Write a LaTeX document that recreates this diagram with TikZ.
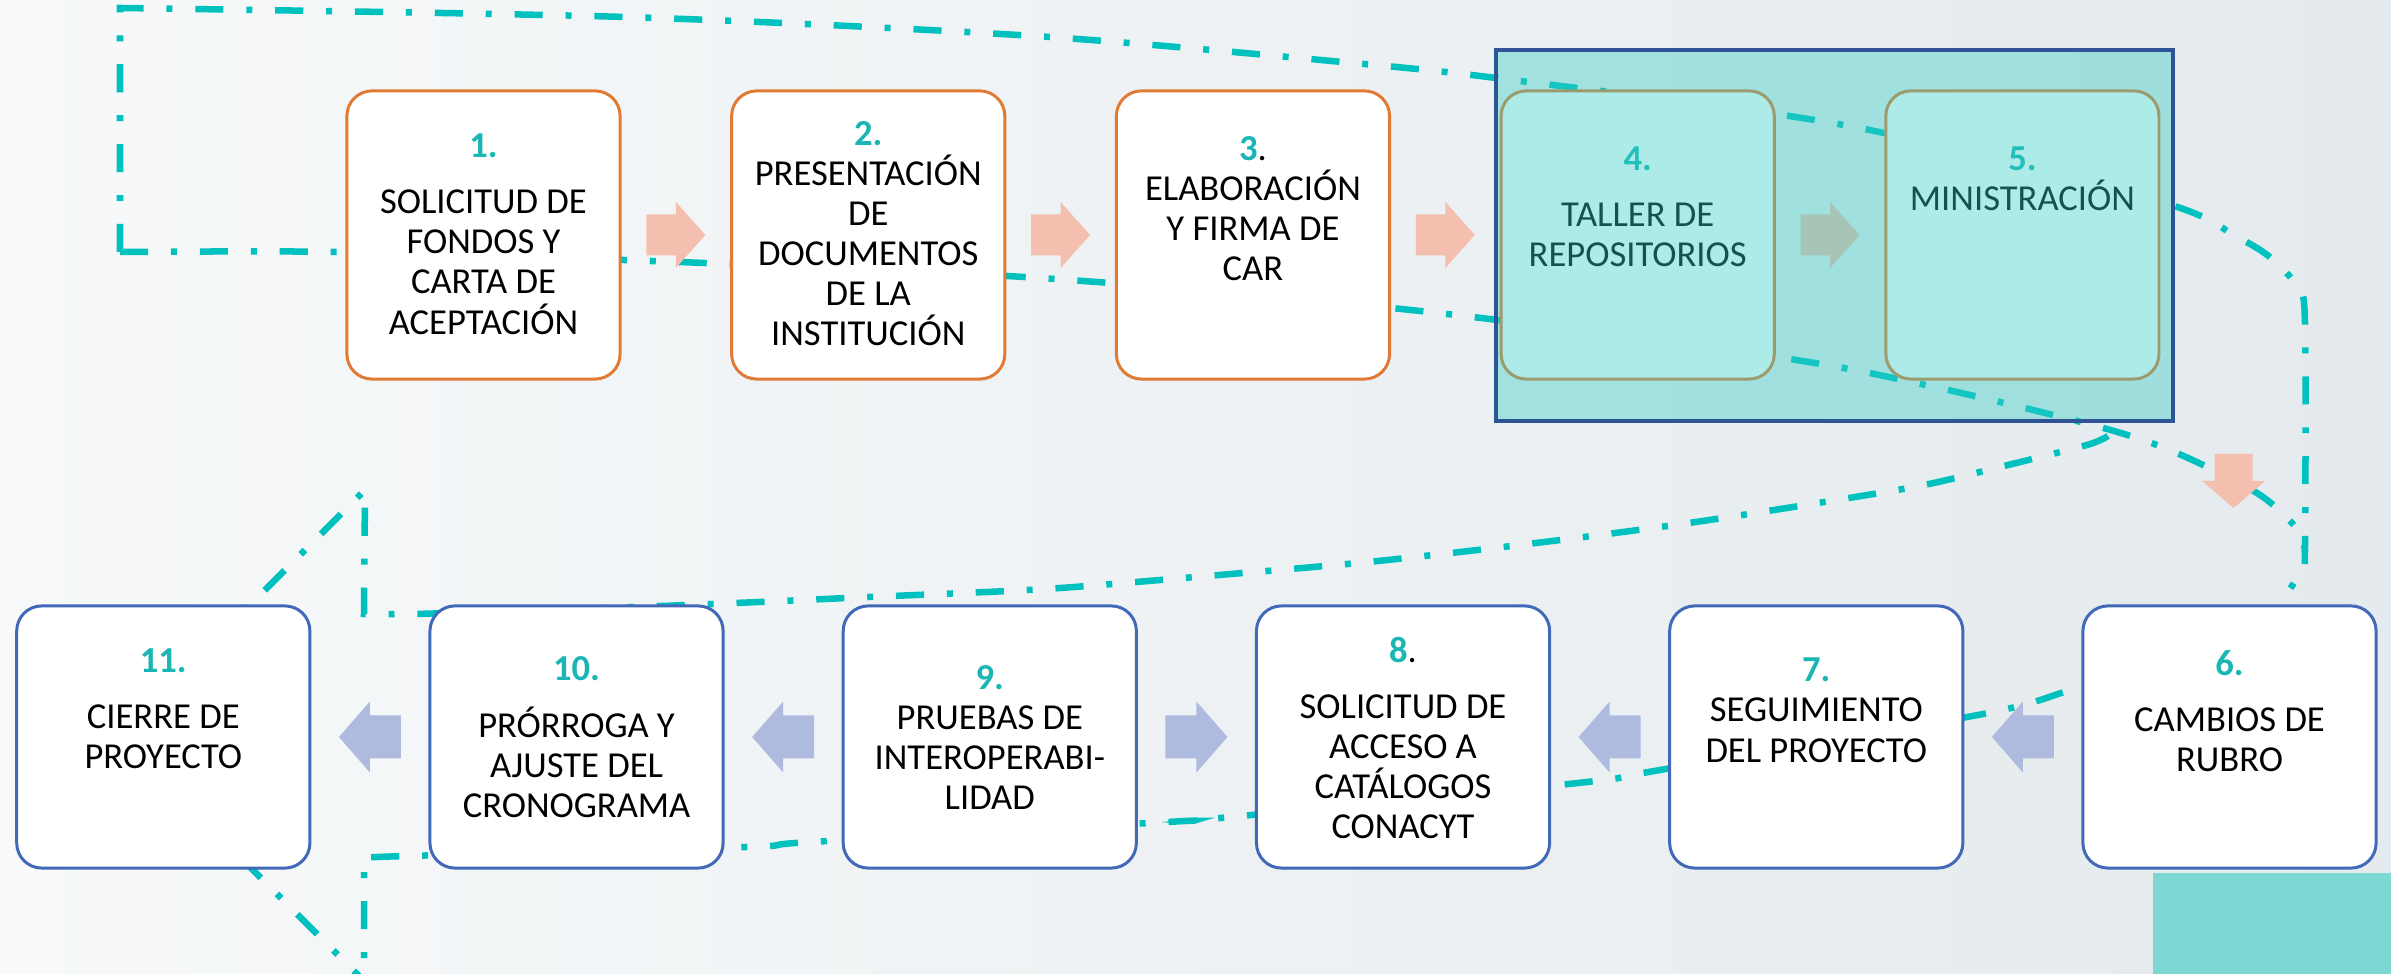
\documentclass[tikz,border=0pt]{standalone}
\usepackage{fontspec}
\setmainfont{Carlito}
\usepackage{xcolor}
\usepackage{tikz}
\usetikzlibrary{positioning,calc}

\definecolor{boxorange}{RGB}{224,122,52}
\definecolor{boxblue}{RGB}{66,104,184}
\definecolor{numteal}{RGB}{26,182,180}
\definecolor{dashteal}{RGB}{0,193,190}
\definecolor{arrowpink}{RGB}{244,191,174}
\definecolor{arrowblue}{RGB}{174,186,222}
\definecolor{frameblue}{RGB}{47,84,150}
\definecolor{glassteal}{RGB}{52,205,198}
\definecolor{cornerteal}{RGB}{125,216,212}
\definecolor{bgleft}{RGB}{247,249,250}
\definecolor{bgright}{RGB}{228,234,237}

\newcommand{\stepnum}[1]{{\bfseries\color{numteal}#1}}

\tikzset{
  topbox/.style={draw=boxorange, line width=0.85pt, fill=white, rounded corners=0.25cm,
    minimum width=2.73cm, minimum height=2.88cm, inner sep=0pt, outer sep=0pt},
  botbox/.style={topbox, draw=boxblue, minimum width=2.93cm, minimum height=2.62cm},
  boxtext/.style={anchor=north, align=center, inner sep=0pt, font=\fontsize{10.4}{11.4}\selectfont},
  tealline/.style={draw=dashteal, line width=1.85pt, dash pattern=on 8pt off 6.5pt on 1.7pt off 6.5pt},
  pinkarrow/.style={fill=arrowpink},
  bluearrow/.style={fill=arrowblue}
}

\begin{document}
\begin{tikzpicture}[x=0.01cm,y=-0.01cm]
% Background
\useasboundingbox (0,0) rectangle (2391,974);
\clip (0,0) rectangle (2391,974);
\shade[left color=bgleft, right color=bgright] (0,0) rectangle (2391,974);
\fill[cornerteal] (2153,873) rectangle (2391,974);

% Dash-dot lines behind the boxes
\draw[tealline] (120,252) -- plot[smooth] coordinates {(120,8) (625,17) (1034,36) (1353,63) (1512,80)
  (1849,126) (2161,202) (2237,237) (2271,258) (2298,288) (2305,324) (2305,544) (2302,568) (2281,603) (2262,630)};
\draw[tealline] plot[smooth] coordinates {(120,252) (347,252) (651,261) (1040,278) (1420,311)
  (1783,358) (1939,388) (2096,426) (2172,451) (2257,493) (2298,530) (2305,552)};
\draw[tealline] plot[smooth] coordinates {(2108,436) (2087,445) (2008,465) (1929,484) (1849,498)
  (1689,523) (1528,544) (1368,562) (1207,576) (1045,589) (869,597) (712,604) (550,610) (413,614) (364,614)}
  -- (365,490) -- (128,727);
\draw[tealline] plot[smooth] coordinates {(2140,672) (2071,690) (1983,714) (1660,770) (1578,783)
  (1220,818) (1167,822) (811,842) (746,847) (407,856) (364,858)} -- (364,990);
\draw[tealline] (128,745) -- (372,989);

% Top row
\node[topbox] (b1) at (483.5,235) {};
\node[topbox, right=1.115cm of b1] (b2) {};
\node[topbox, right=1.115cm of b2] (b3) {};
\node[topbox, right=1.115cm of b3] (b4) {};
\node[topbox, right=1.115cm of b4] (b5) {};

\node[boxtext] (t1) at ($(b1.north)+(0,42.5)$) {\stepnum{1.}\\[4.5pt] SOLICITUD DE\\ FONDOS Y\\ CARTA DE\\ ACEPTACIÓN};
\node[boxtext] (t2) at ($(b2.north)+(0,29.5)$) {\stepnum{2.}\\ PRESENTACIÓN\\ DE\\ DOCUMENTOS\\ DE LA\\ INSTITUCIÓN};
\node[boxtext] (t3) at ($(b3.north)+(0,44.5)$) {\stepnum{3}.\\ ELABORACIÓN\\ Y FIRMA DE\\ CAR};
\node[boxtext] (t4) at ($(b4.north)+(0,55.5)$) {\stepnum{4.}\\[4.5pt] TALLER DE\\ REPOSITORIOS};
\node[boxtext] (t5) at ($(b5.north)+(0,55.5)$) {\stepnum{5.}\\ MINISTRACIÓN};

% Bottom row
\node[botbox] (b6) at (2229.5,737) {};
\node[botbox, left=1.2cm of b6] (b7) {};
\node[botbox, left=1.2cm of b7] (b8) {};
\node[botbox, left=1.2cm of b8] (b9) {};
\node[botbox, left=1.2cm of b9] (b10) {};
\node[botbox, left=1.2cm of b10] (b11) {};

\node[boxtext] (t6) at ($(b6.north)+(0,43.5)$) {\stepnum{6.}\\[4.5pt] CAMBIOS DE\\ RUBRO};
\node[boxtext] (t7) at ($(b7.north)+(0,51.5)$) {\stepnum{7.}\\ SEGUIMIENTO\\ DEL PROYECTO};
\node[boxtext] (t8) at ($(b8.north)+(0,30.5)$) {\stepnum{8}.\\[4.5pt] SOLICITUD DE\\ ACCESO A\\ CATÁLOGOS\\ CONACYT};
\node[boxtext] (t9) at ($(b9.north)+(0,58.5)$) {\stepnum{9.}\\ PRUEBAS DE\\ INTEROPERABI-\\ LIDAD};
\node[boxtext] (t10) at ($(b10.north)+(0,49.5)$) {\stepnum{10.}\\[5pt] PRÓRROGA Y\\ AJUSTE DEL\\ CRONOGRAMA};
\node[boxtext] (t11) at ($(b11.north)+(0,42.5)$) {\stepnum{11.}\\[4.5pt] CIERRE DE\\ PROYECTO};

% Block arrows
\foreach \a/\b in {b1/b2,b2/b3,b3/b4,b4/b5} {
  \begin{scope}[shift={($(\a.east)!0.5!(\b.west)$)}]
    \fill[pinkarrow] (-29.5,-20.5) -- (0,-20.5) -- (0,-33) -- (29.5,0) -- (0,33) -- (0,20.5) -- (-29.5,20.5) -- cycle;
  \end{scope}
}
\foreach \a/\b/\s in {b11/b10/1,b10/b9/1,b9/b8/-1,b8/b7/1,b7/b6/1} {
  \begin{scope}[shift={($(\a.east)!0.5!(\b.west)$)}, xscale=\s]
    \fill[bluearrow] (31,-21.5) -- (0,-21.5) -- (0,-35.5) -- (-31,0) -- (0,35.5) -- (0,21.5) -- (31,21.5) -- cycle;
  \end{scope}
}
\coordinate (down) at (2233.5,481);
\begin{scope}[shift={(down)}]
  \fill[pinkarrow] (-19,-27) -- (19,-27) -- (19,0) -- (31.5,0) -- (0,27) -- (-31.5,0) -- (-19,0) -- cycle;
\end{scope}

% Highlight of steps 4 and 5
\filldraw[fill=glassteal, fill opacity=0.4, draw=frameblue, line width=1pt] (1496,50) rectangle (2173,421);
\end{tikzpicture}
\end{document}
